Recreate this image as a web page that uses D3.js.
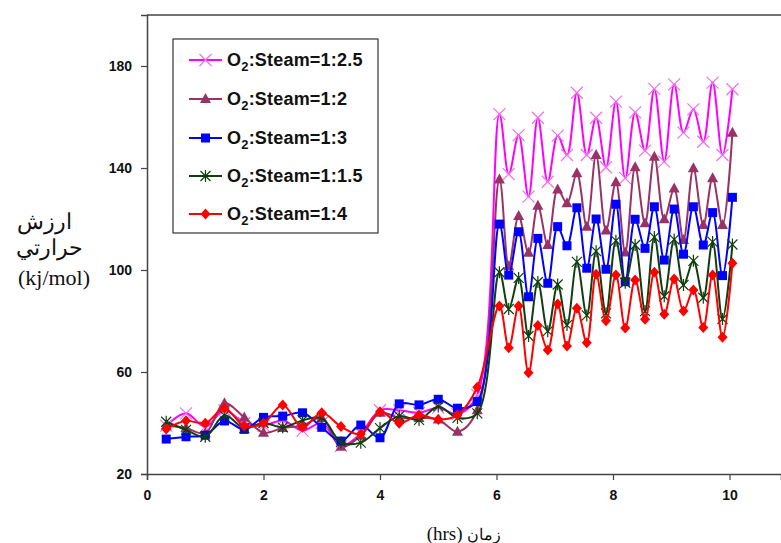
<!DOCTYPE html>
<html>
<head>
<meta charset="utf-8">
<script src="https://cdn.jsdelivr.net/npm/d3@7/dist/d3.min.js"></script>
<style>
  html, body { margin: 0; padding: 0; background: #fff; }
  svg { display: block; }
</style>
</head>
<body>
<svg id="chart" width="781" height="543"></svg>
<script>
// Sampling times (hours): every 20 min before the switch, every 10 min after it
const hours = [
  0.33, 0.67, 1.00, 1.33, 1.67, 2.00, 2.33, 2.67, 3.00, 3.33, 3.67, 4.00, 4.33, 4.67, 5.00, 5.33, 5.67,
  6.05, 6.21, 6.38, 6.55, 6.71, 6.88, 7.05, 7.21, 7.38, 7.55, 7.71, 7.88, 8.05, 8.21, 8.38, 8.55,
  8.71, 8.88, 9.05, 9.21, 9.38, 9.55, 9.71, 9.88, 10.05
];

// Heating value (kJ/mol) for each O2:steam ratio
const ratio_1_2_5 = [
  39.0, 43.8, 38.5, 45.0, 40.0, 39.0, 41.0, 37.0, 40.0, 31.0, 36.0, 45.0, 45.0, 44.0, 46.0, 43.5, 51.0,
  161.1, 137.6, 152.9, 128.8, 159.7, 134.6, 152.7, 145.1, 169.5, 145.1, 159.7, 140.3, 166.0, 136.0, 161.8, 146.8,
  171.0, 142.5, 172.8, 153.9, 163.0, 150.3, 173.5, 145.1, 170.9
];
const ratio_1_2 = [
  39.0, 38.0, 36.0, 47.7, 42.2, 36.2, 38.0, 39.0, 42.0, 30.7, 35.0, 44.0, 42.0, 42.0, 41.4, 36.6, 45.0,
  135.5, 101.5, 121.2, 106.8, 125.2, 109.8, 131.6, 126.2, 137.9, 117.0, 145.1, 115.5, 134.4, 106.9, 140.3, 118.3,
  144.4, 119.9, 132.0, 111.8, 139.9, 117.6, 136.0, 117.6, 153.8
];
const ratio_1_3 = [
  33.7, 34.6, 35.2, 40.8, 37.5, 42.2, 42.7, 44.0, 38.3, 32.9, 39.2, 34.2, 47.5, 47.1, 49.3, 45.8, 48.4,
  118.0, 98.0, 115.0, 89.5, 112.4, 94.8, 117.0, 109.5, 124.4, 100.7, 120.0, 100.3, 125.8, 95.4, 119.9, 108.5,
  124.8, 103.9, 123.9, 106.2, 124.8, 109.8, 122.5, 97.8, 128.5
];
const ratio_1_1_5 = [
  40.5, 37.3, 34.6, 43.0, 38.0, 40.0, 38.3, 41.0, 42.0, 32.5, 32.3, 38.0, 42.7, 41.2, 46.5, 42.0, 43.8,
  99.1, 84.7, 96.9, 74.1, 95.3, 76.0, 94.3, 78.4, 103.2, 82.2, 107.4, 83.0, 111.5, 95.0, 109.8, 83.9,
  112.9, 89.7, 112.0, 94.1, 103.6, 89.1, 111.0, 80.8, 110.0
];
const ratio_1_4 = [
  37.6, 40.9, 39.9, 45.8, 38.8, 39.9, 47.1, 38.3, 44.0, 38.6, 35.7, 44.4, 39.9, 43.1, 41.4, 43.1, 54.0,
  85.9, 69.5, 85.9, 59.7, 78.2, 68.6, 86.7, 70.2, 85.0, 71.5, 98.3, 80.1, 98.0, 77.3, 96.1, 80.7,
  99.1, 82.6, 96.5, 83.9, 92.2, 77.5, 98.0, 73.6, 102.6
];

const seriesNames = ["1:2.5", "1:2", "1:3", "1:1.5", "1:4"];
const seriesValues = [ratio_1_2_5, ratio_1_2, ratio_1_3, ratio_1_1_5, ratio_1_4];

const xTicks = [0, 2, 4, 6, 8, 10];
const yTicks = [20, 60, 100, 140, 180];

// Styling per series
const styles = [
  { line: "#ff00ff", marker: "cross",    mcolor: "#f070f0" },
  { line: "#993366", marker: "triangle", mcolor: "#993366" },
  { line: "#0000ff", marker: "square",   mcolor: "#0000ff" },
  { line: "#0f3f0f", marker: "star",     mcolor: "#0f3f0f" },
  { line: "#ff0000", marker: "diamond",  mcolor: "#ff0000" }
];

const svg = d3.select("#chart");
const plotLeft = 147, plotTop = 15, plotBottom = 474, plotRight = 781;

const x = d3.scaleLinear().domain([0, (plotRight - plotLeft) / 58.25]).range([plotLeft, plotRight]);
const y = d3.scaleLinear().domain([20, 200]).range([plotBottom, plotTop]);

// Frame: top border line
svg.append("line")
  .attr("x1", plotLeft).attr("x2", plotRight).attr("y1", plotTop).attr("y2", plotTop)
  .attr("stroke", "#444").attr("stroke-width", 1.5);

// Axes
const xAxis = svg.append("g")
  .attr("transform", `translate(0,${plotBottom})`)
  .call(d3.axisBottom(x).tickValues(xTicks).tickSize(6).tickPadding(10).tickFormat(d3.format("d")));
const yAxis = svg.append("g")
  .attr("transform", `translate(${plotLeft},0)`)
  .call(d3.axisLeft(y).tickValues(yTicks).tickSize(6).tickPadding(9).tickFormat(d3.format("d")));

[xAxis, yAxis].forEach(g => {
  g.select(".domain").attr("stroke", "#444").attr("stroke-width", 1.5);
  g.selectAll(".tick line").attr("stroke", "#444").attr("stroke-width", 1.2);
  g.selectAll(".tick text")
    .attr("fill", "#111")
    .style("font-family", "'Liberation Sans', Arial, sans-serif")
    .style("font-weight", "bold")
    .style("font-size", "14px");
});

// Marker drawing
function drawMarker(g, type, color, cx, cy) {
  switch (type) {
    case "cross": {
      const r = 6;
      g.append("path")
        .attr("d", `M${cx - r},${cy - r}L${cx + r},${cy + r}M${cx - r},${cy + r}L${cx + r},${cy - r}`)
        .attr("stroke", color).attr("stroke-width", 1.2).attr("fill", "none");
      break;
    }
    case "star": {
      const r = 5;
      g.append("path")
        .attr("d", `M${cx - r},${cy - r}L${cx + r},${cy + r}M${cx - r},${cy + r}L${cx + r},${cy - r}M${cx},${cy - r - 1}L${cx},${cy + r + 1}`)
        .attr("stroke", color).attr("stroke-width", 1.2).attr("fill", "none");
      break;
    }
    case "square":
      g.append("rect").attr("x", cx - 4.5).attr("y", cy - 4.5).attr("width", 9).attr("height", 9)
        .attr("fill", color);
      break;
    case "triangle":
      g.append("path").attr("d", `M${cx},${cy - 6}L${cx + 5.5},${cy + 4}L${cx - 5.5},${cy + 4}Z`)
        .attr("fill", color);
      break;
    case "diamond":
      g.append("path").attr("d", `M${cx},${cy - 5.5}L${cx + 5},${cy}L${cx},${cy + 5.5}L${cx - 5},${cy}Z`)
        .attr("fill", color);
      break;
  }
}

// Smoothed series lines with markers
const line = d3.line()
  .x(d => x(d[0]))
  .y(d => y(d[1]))
  .curve(d3.curveCatmullRom.alpha(0.5));

const plot = svg.append("g");
seriesValues.forEach((vals, i) => {
  const pts = hours.map((h, k) => [h, vals[k]]);
  const g = plot.append("g");
  g.append("path")
    .attr("d", line(pts))
    .attr("fill", "none")
    .attr("stroke", styles[i].line)
    .attr("stroke-width", 2);
  pts.forEach(p => drawMarker(g, styles[i].marker, styles[i].mcolor, x(p[0]), y(p[1])));
});

// Legend
const legend = svg.append("g");
legend.append("rect")
  .attr("x", 173).attr("y", 39).attr("width", 205).attr("height", 194)
  .attr("fill", "#fff").attr("stroke", "#333").attr("stroke-width", 1.2);
const legendY = [60, 99, 138, 176, 214];
seriesNames.forEach((name, i) => {
  const ly = legendY[i];
  legend.append("line")
    .attr("x1", 189).attr("x2", 222).attr("y1", ly).attr("y2", ly)
    .attr("stroke", styles[i].line).attr("stroke-width", 2);
  drawMarker(legend, styles[i].marker, styles[i].mcolor, 205.5, ly);
  const t = legend.append("text")
    .attr("x", 227).attr("y", ly + 6)
    .attr("fill", "#111")
    .style("font-family", "'Liberation Sans', Arial, sans-serif")
    .style("font-weight", "bold")
    .style("font-size", "18px")
    .style("letter-spacing", "0.2px");
  t.append("tspan").text("O");
  t.append("tspan").attr("dy", 5).style("font-size", "13px").text("2");
  t.append("tspan").attr("dy", -5).text(":Steam=" + name);
});

// Axis titles
const yTitle = svg.append("text")
  .attr("text-anchor", "middle")
  .attr("fill", "#111")
  .style("font-family", "'Liberation Serif', 'Times New Roman', serif")
  .style("font-size", "22px");
yTitle.append("tspan").attr("x", 44).attr("y", 229).style("font-size", "22px").text("ارزش");
yTitle.append("tspan").attr("x", 49).attr("y", 255).style("font-size", "22px").text("حرارتي");
yTitle.append("tspan").attr("x", 54).attr("y", 285).text("(kj/mol)");

const xTitle = svg.append("text")
  .attr("x", 464).attr("y", 540)
  .attr("text-anchor", "middle")
  .attr("fill", "#111")
  .style("font-family", "'Liberation Serif', 'Times New Roman', serif")
  .style("font-size", "19px");
xTitle.append("tspan").text("(hrs) ");
xTitle.append("tspan").style("font-size", "16px").text("زمان");
</script>
</body>
</html>
